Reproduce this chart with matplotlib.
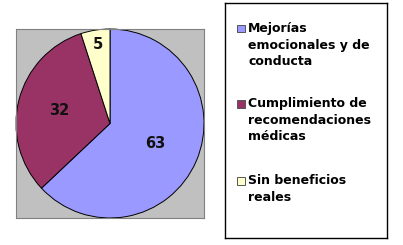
import matplotlib
matplotlib.use("Agg")
import matplotlib.pyplot as plt
import numpy as np

# data
categories = ["Mejorías\nemocionales y de\nconducta",
              "Cumplimiento de\nrecomendaciones\nmédicas",
              "Sin beneficios\nreales"]
values = [63, 32, 5]
colors = ["#9999FF", "#993366", "#FFFFCC"]
label_radius = [0.52, 0.56, 0.85]

W, H = 403, 245
fig = plt.figure(figsize=(W / 100, H / 100), dpi=100)
fig.patch.set_facecolor("white")

# pie area (gray box)
ax = fig.add_axes([16 / W, (H - 218) / H, 188 / W, 189 / H])
wedges, _ = ax.pie(values, colors=colors, startangle=90, counterclock=False,
                   radius=1.0, wedgeprops=dict(edgecolor="black", linewidth=0.7))
ax.set_frame_on(True)
ax.set_facecolor("#C0C0C0")
for s in ax.spines.values():
    s.set_visible(True)
    s.set_color("#808080")
    s.set_linewidth(0.8)
ax.set_xticks([])
ax.set_yticks([])
ax.set_xlim(-1.0, 1.0)
ax.set_ylim(-1.0, 1.0)
ax.set_aspect("auto")

for w, v, r in zip(wedges, values, label_radius):
    ang = np.deg2rad((w.theta1 + w.theta2) / 2)
    ax.text(r * np.cos(ang), r * np.sin(ang), str(v), ha="center", va="center",
            fontsize=10.5, fontweight="bold", color="#111111")

# legend box
lax = fig.add_axes([225 / W, (H - 238) / H, 162 / W, 235 / H])
lax.set_xlim(0, 162)
lax.set_ylim(235, 0)
lax.set_xticks([])
lax.set_yticks([])
for s in lax.spines.values():
    s.set_color("black")
    s.set_linewidth(1.0)

tops = [20, 95, 172]
for c, lab, t in zip(colors, categories, tops):
    lax.add_patch(plt.Rectangle((12, t + 2), 7.5, 7.5, facecolor=c, edgecolor="#555555", linewidth=0.7))
    lax.text(23, t - 1, lab, ha="left", va="top", fontsize=9, fontweight="bold",
             linespacing=1.35, color="black")

fig.savefig("out.png", dpi=100)
